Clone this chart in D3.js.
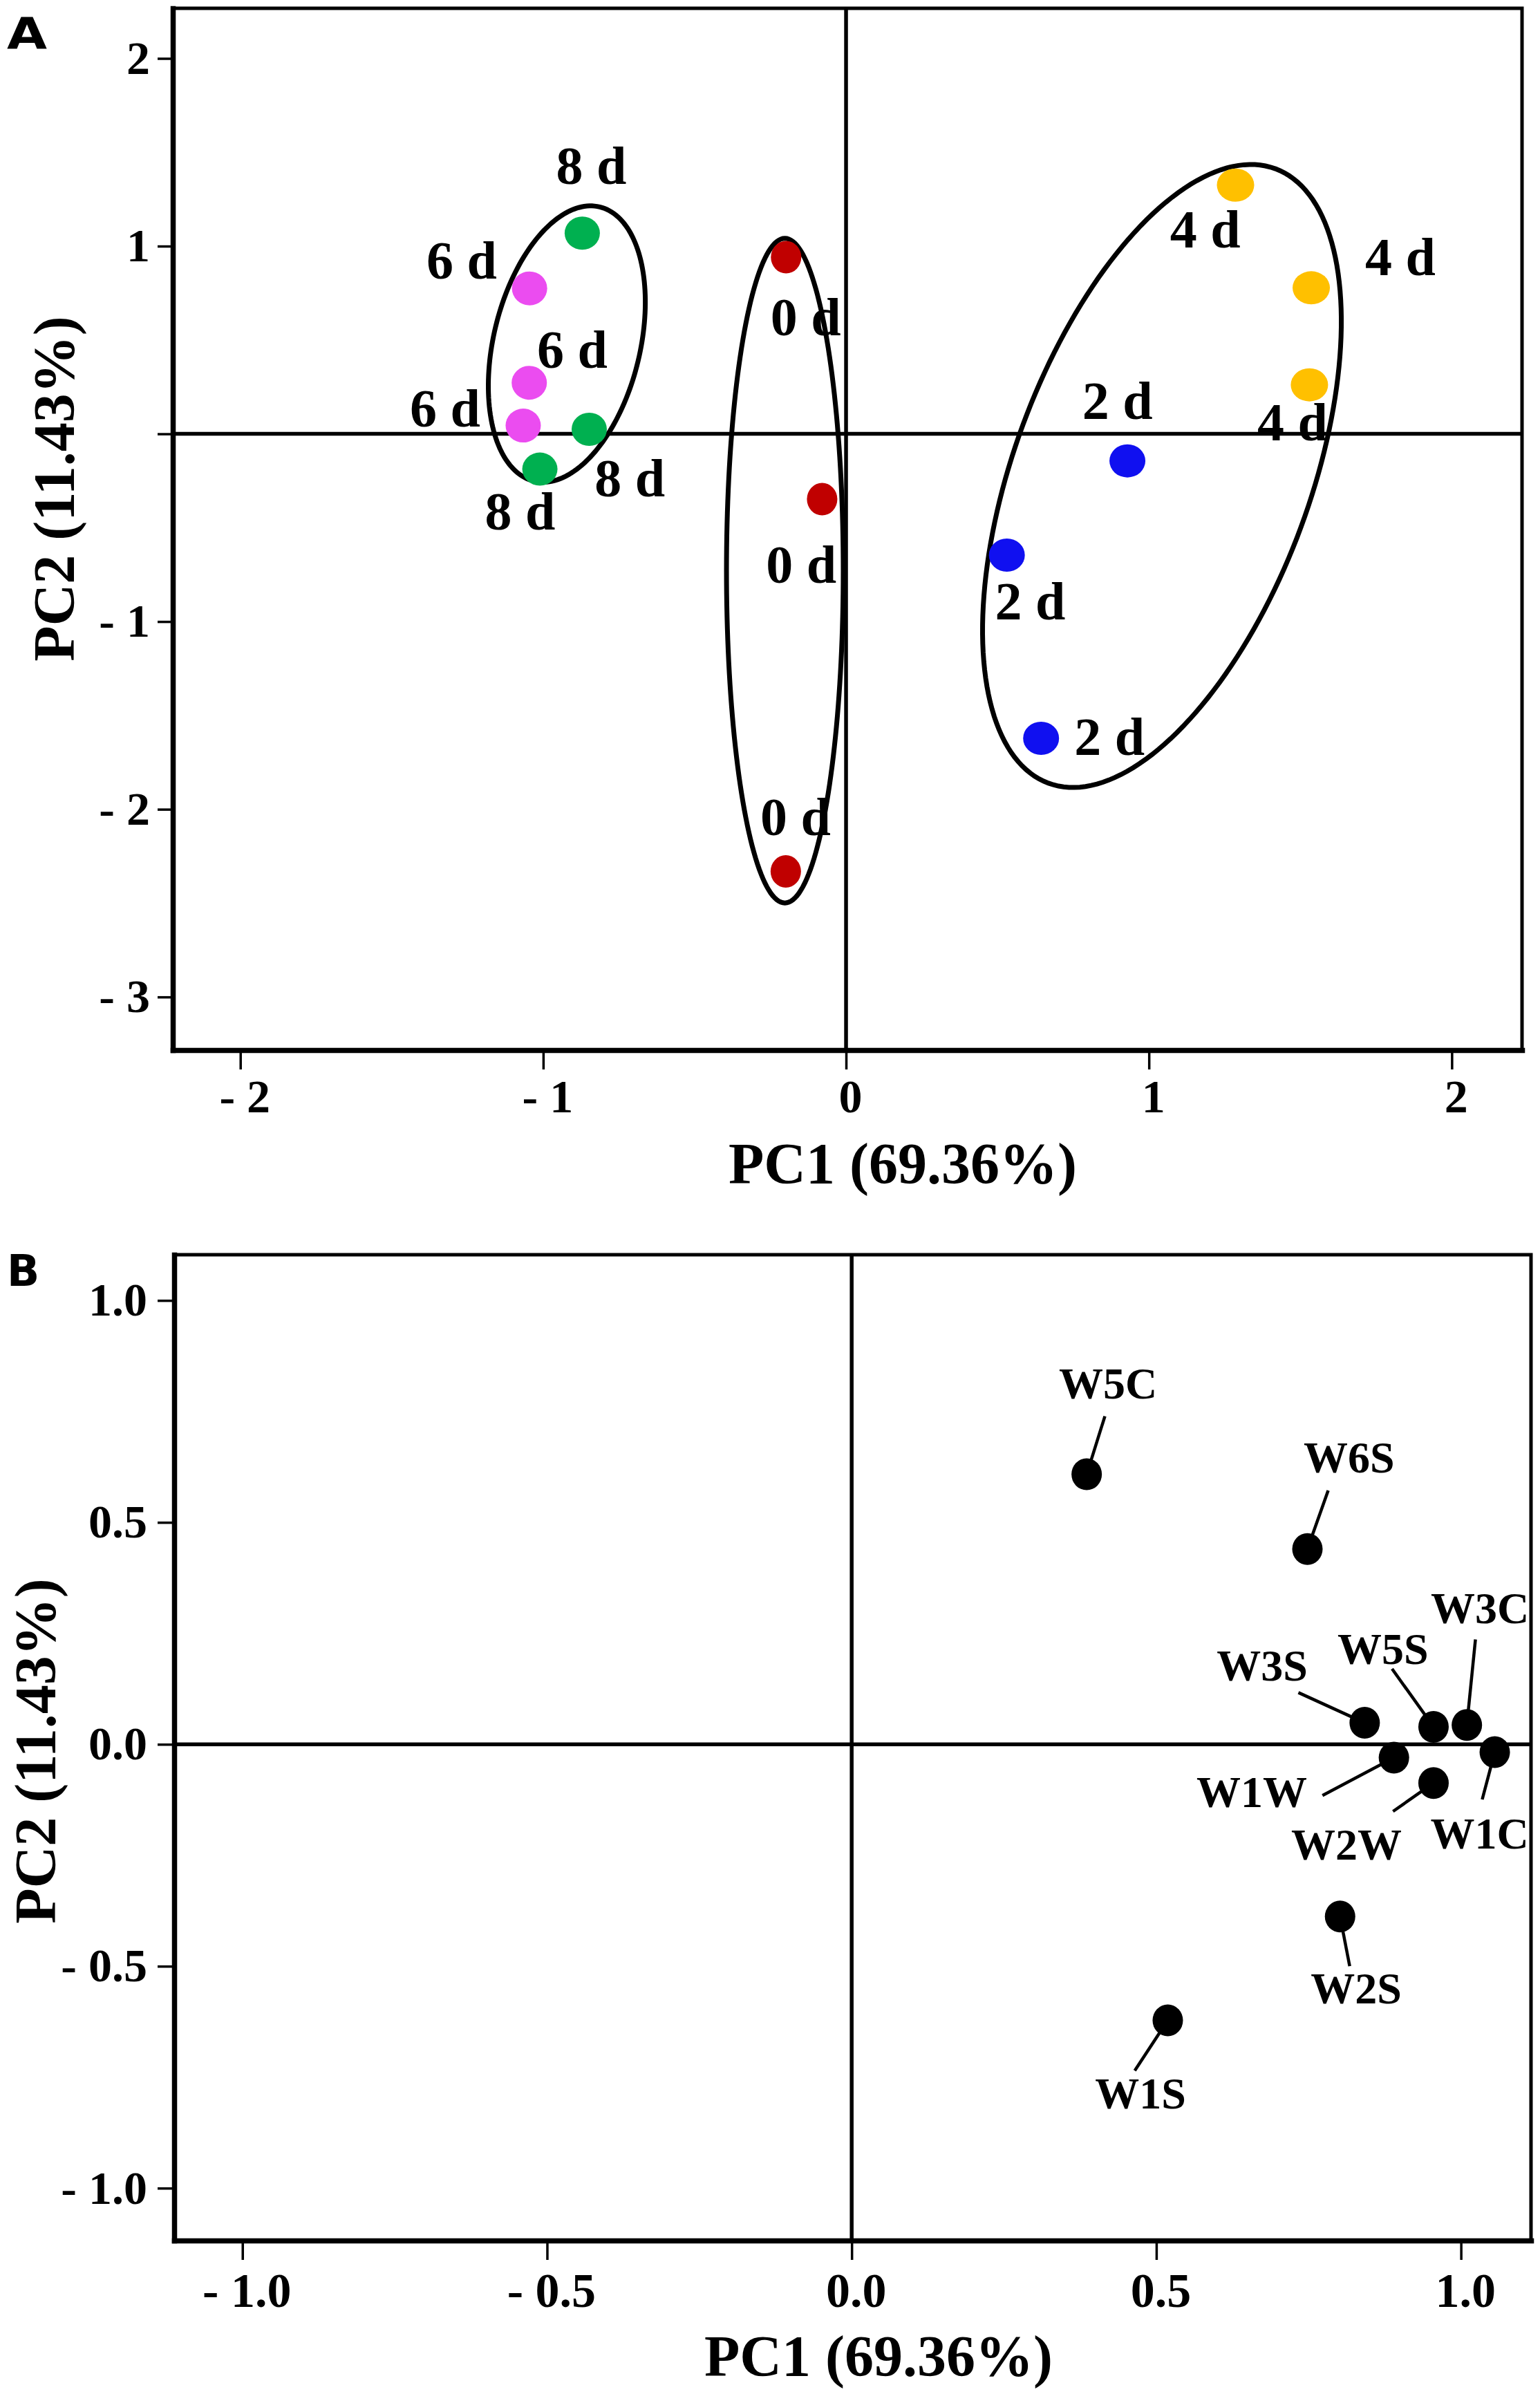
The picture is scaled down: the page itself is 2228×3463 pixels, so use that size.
<!DOCTYPE html>
<html><head><meta charset="utf-8">
<script src="https://cdn.jsdelivr.net/npm/d3@7"></script>
<style>body{margin:0;background:#fff}</style>
</head><body>
<svg id="c" width="2228" height="3463" xmlns="http://www.w3.org/2000/svg"></svg>
<script>
// ---------------- DATA ----------------
// Panel A: PCA scores by storage day
const groupsA = ["0 d","2 d","4 d","6 d","8 d"];
const d0_pc1 = [-0.198, -0.079, -0.199];
const d0_pc2 = [ 0.941, -0.348, -2.331];
const d2_pc1 = [ 0.929,  0.531,  0.644];
const d2_pc2 = [-0.144, -0.646, -1.622];
const d4_pc1 = [ 1.286,  1.536,  1.530];
const d4_pc2 = [ 1.325,  0.778,  0.261];
const d6_pc1 = [-1.045, -1.046, -1.066];
const d6_pc2 = [ 0.775,  0.272,  0.044];
const d8_pc1 = [-0.871, -0.848, -1.011];
const d8_pc2 = [ 1.069,  0.024, -0.188];

// point annotations (text, anchor in PC units)
const labelsA_text = ["8 d","6 d","6 d","6 d","8 d","8 d","0 d","0 d","0 d","4 d","4 d","4 d","2 d","2 d","2 d"];
const labelsA_pc1  = [-0.841,-1.269,-0.904,-1.324,-0.714,-1.076,-0.133,-0.148,-0.167, 1.186, 1.830, 1.474, 0.896, 0.608, 0.870];
const labelsA_pc2  = [ 1.332, 0.828, 0.351, 0.039,-0.334,-0.508, 0.524,-0.795,-2.138, 0.992, 0.844,-0.035, 0.081,-0.988,-1.711];

// grouping ellipses: centre + two conjugate semi-diameters (PC units)
const ellCx = [-0.922, -0.202, 1.043];
const ellCy = [ 0.4785,-0.7288,-0.2245];
const ellUx = [ 0.1086, 0.0,    0.3745];
const ellUy = [ 0.7302, 1.7703, 1.6367];
const ellVx = [ 0.2353, 0.1928, 0.4589];
const ellVy = [-0.0909, 0.0,   -0.2731];

const ticksAx = [-2,-1,0,1,2];
const ticksAy = [2,1,0,-1,-2,-3];

// Panel B: loadings of sensor variables
const varsB = ["W5C","W6S","W3S","W5S","W3C","W1C","W1W","W2W","W2S","W1S"];
const pc1B  = [0.3857, 0.748, 0.842, 0.955, 1.0097, 1.0555, 0.890, 0.955, 0.8016, 0.5188];
const pc2B  = [0.6083, 0.440, 0.0484, 0.0394, 0.0436, -0.0176, -0.0302, -0.0872, -0.3879, -0.6221];
// label anchors and leader-line starts (PC units)
const labB_pc1  = [0.4208, 0.8164, 0.6738, 0.8719, 1.0311, 1.0306, 0.6568, 0.8122, 0.8280, 0.4741];
const labB_pc2  = [0.7785, 0.6129, 0.1436, 0.1805, 0.2723, -0.2346, -0.1422, -0.2597, -0.5833, -0.8206];
const leadB_pc1 = [0.4156, 0.7821, 0.7332, 0.8869, 1.0238, 1.0349, 0.7727, 0.8885, 0.8174, 0.4646];
const leadB_pc2 = [0.7391, 0.5720, 0.1165, 0.1701, 0.2361, -0.1243, -0.1154, -0.1512, -0.4998, -0.7354];

const ticksBx = [-1,-0.5,0,0.5,1];
const ticksBy = [1,0.5,0,-0.5,-1];
const axisTitleX = "PC1 (69.36%)";
const axisTitleY = "PC2 (11.43%)";

// ---------------- STYLE ----------------
const SERIF = "'Liberation Serif','Times New Roman',serif";
const colors = {"0 d":"#c00000","2 d":"#1010f0","4 d":"#ffc000","6 d":"#eb4cf0","8 d":"#00b050"};
const dotR = {"0 d":[22,23.5],"2 d":[26,24],"4 d":[27,24],"6 d":[25.5,24.5],"8 d":[25.5,24]};

const svg = d3.select("#c");
svg.append("rect").attr("width",2228).attr("height",3463).attr("fill","#fff");

// ---------------- PANEL A ----------------
const xA = d3.scaleLinear().domain([-2.223, 2.232]).range([250, 2202]);
const yA = d3.scaleLinear().domain([-3.283, 2.267]).range([1519, 12]);

const tableA = [];
const pcs = {"0 d":[d0_pc1,d0_pc2],"2 d":[d2_pc1,d2_pc2],"4 d":[d4_pc1,d4_pc2],"6 d":[d6_pc1,d6_pc2],"8 d":[d8_pc1,d8_pc2]};
groupsA.forEach(g => pcs[g][0].forEach((v,i) => tableA.push({g, x:v, y:pcs[g][1][i]})));

const gA = svg.append("g");
function frame(g, xs, ys, xt, yt, fmt, opt){
  g.append("line").attr("x1",xs.range()[0]).attr("x2",xs.range()[1]).attr("y1",ys(0)).attr("y2",ys(0))
    .attr("stroke","#000").attr("stroke-width",5.5);
  g.append("line").attr("x1",xs(0)).attr("x2",xs(0)).attr("y1",ys.range()[0]).attr("y2",ys.range()[1])
    .attr("stroke","#000").attr("stroke-width",5.5);
  g.append("path").attr("d",`M${xs.range()[0]},${ys.range()[1]}H${xs.range()[1]}V${ys.range()[0]}`)
    .attr("fill","none").attr("stroke","#000").attr("stroke-width",5);
  const ax = g.append("g").attr("transform",`translate(0,${ys.range()[0]})`)
    .call(d3.axisBottom(xs).tickValues(xt).tickFormat(fmt.x).tickSize(opt.tx).tickPadding(opt.px).tickSizeOuter(0));
  const ay = g.append("g").attr("transform",`translate(${xs.range()[0]},0)`)
    .call(d3.axisLeft(ys).tickValues(yt).tickFormat(fmt.y).tickSize(opt.ty).tickPadding(opt.py).tickSizeOuter(0));
  [ax,ay].forEach(a=>{
    a.attr("font-family",SERIF).attr("font-weight","bold");
    a.select(".domain").attr("stroke-width",7.5).attr("stroke-linecap","square");
    a.selectAll(".tick line").attr("stroke-width",3.5);
    a.selectAll(".tick text").attr("fill","#000");
  });
  ax.attr("font-size",opt.fsx);
  ay.attr("font-size",opt.fsy);
  ax.selectAll(".tick text").attr("dx",6);
}
const fmtA = {x: v => v<0 ? "- "+Math.abs(v) : String(v), y: v => v===0 ? "" : (v<0 ? "- "+Math.abs(v) : String(v))};
frame(gA, xA, yA, ticksAx, ticksAy, fmtA, {tx:28, px:14, ty:22, py:11, fsx:68, fsy:68});

const ellPath = (i, xs, ys) => d3.line()(d3.range(0, 360, 2).map(a => {
  const t = a*Math.PI/180;
  return [xs(ellCx[i] + ellUx[i]*Math.cos(t) + ellVx[i]*Math.sin(t)),
          ys(ellCy[i] + ellUy[i]*Math.cos(t) + ellVy[i]*Math.sin(t))];
})) + "Z";
gA.selectAll("path.ell").data(ellCx).join("path").attr("class","ell")
  .attr("d",(d,i)=>ellPath(i,xA,yA)).attr("fill","none").attr("stroke","#000").attr("stroke-width",7);

gA.selectAll("ellipse.pt").data(tableA).join("ellipse").attr("class","pt")
  .attr("cx",d=>xA(d.x)).attr("cy",d=>yA(d.y))
  .attr("rx",d=>dotR[d.g][0]).attr("ry",d=>dotR[d.g][1]).attr("fill",d=>colors[d.g]);

gA.selectAll("text.lab").data(labelsA_text).join("text").attr("class","lab")
  .attr("x",(d,i)=>xA(labelsA_pc1[i])).attr("y",(d,i)=>yA(labelsA_pc2[i]))
  .attr("text-anchor","middle").attr("font-family",SERIF).attr("font-weight","bold").attr("font-size",78)
  .text(d=>d);

gA.append("text").attr("x",1306).attr("y",1712).attr("text-anchor","middle")
  .attr("font-family",SERIF).attr("font-weight","bold").attr("font-size",84).text(axisTitleX);
gA.append("text").attr("transform","translate(107,707) rotate(-90)").attr("text-anchor","middle")
  .attr("font-family",SERIF).attr("font-weight","bold").attr("font-size",84).text(axisTitleY);
svg.append("text").attr("x",10).attr("y",70).attr("font-family","'DejaVu Sans',Arial,sans-serif")
  .attr("font-weight","bold").attr("font-size",62).attr("textLength",58).attr("lengthAdjust","spacingAndGlyphs").text("A");

// ---------------- PANEL B ----------------
const xB = d3.scaleLinear().domain([-1.112, 1.115]).range([252, 2215]);
const yB = d3.scaleLinear().domain([-1.118, 1.103]).range([3241, 1815]);
const gB = svg.append("g");
const fmtB = {x: v => (v<0?"- ":"")+Math.abs(v).toFixed(1), y: v => (v<0?"- ":"")+Math.abs(v).toFixed(1)};
frame(gB, xB, yB, ticksBx, ticksBy, fmtB, {tx:28, px:18, ty:24, py:15, fsx:70, fsy:68});

const tableB = varsB.map((v,i)=>({v, x:pc1B[i], y:pc2B[i], lx:labB_pc1[i], ly:labB_pc2[i], sx:leadB_pc1[i], sy:leadB_pc2[i]}));
gB.selectAll("line.lead").data(tableB).join("line").attr("class","lead")
  .attr("x1",d=>xB(d.sx)).attr("y1",d=>yB(d.sy)).attr("x2",d=>xB(d.x)).attr("y2",d=>yB(d.y))
  .attr("stroke","#000").attr("stroke-width",4.5);
gB.selectAll("ellipse.pt").data(tableB).join("ellipse").attr("class","pt")
  .attr("cx",d=>xB(d.x)).attr("cy",d=>yB(d.y)).attr("rx",22).attr("ry",23).attr("fill","#000");
gB.selectAll("text.lab").data(tableB).join("text").attr("class","lab")
  .attr("x",d=>xB(d.lx)).attr("y",d=>yB(d.ly)).attr("text-anchor","middle")
  .attr("font-family",SERIF).attr("font-weight","bold").attr("font-size",64).text(d=>d.v);

gB.append("text").attr("x",1271).attr("y",3437).attr("text-anchor","middle")
  .attr("font-family",SERIF).attr("font-weight","bold").attr("font-size",84).text(axisTitleX);
gB.append("text").attr("transform","translate(80,2533) rotate(-90)").attr("text-anchor","middle")
  .attr("font-family",SERIF).attr("font-weight","bold").attr("font-size",84).text(axisTitleY);
svg.append("text").attr("x",10).attr("y",1860).attr("font-family","'DejaVu Sans',Arial,sans-serif")
  .attr("font-weight","bold").attr("font-size",62).text("B");
</script>
</body></html>
